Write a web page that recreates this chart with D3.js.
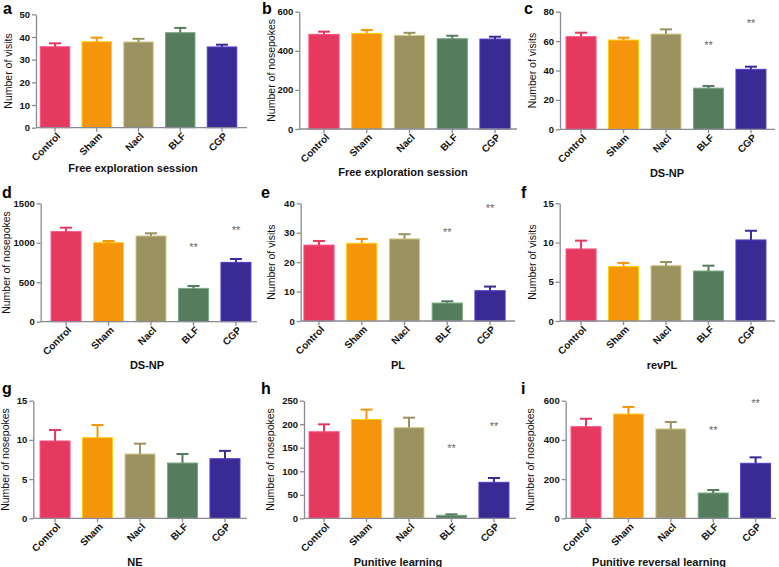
<!DOCTYPE html>
<html>
<head>
<meta charset="utf-8">
<script src="https://cdn.jsdelivr.net/npm/d3@7/dist/d3.min.js"></script>
<style>
  html, body { margin: 0; padding: 0; background: #fff; }
  svg { display: block; }
  text { font-family: Arial, "Liberation Sans", Helvetica, sans-serif; }
</style>
</head>
<body>
<svg id="chart" width="779" height="567"></svg>
<script>
// ---------- data ----------
const categories = ["Control", "Sham", "Nacl", "BLF", "CGP"];
const barColors = ["#e5395f", "#f5950c", "#9b9262", "#567c5e", "#3a2b94"];

const aMeans = [35.7, 37.9, 37.8, 41.9, 35.6];
const aSem   = [1.5, 1.8, 1.4, 2.1, 1.0];
const aTicks = [0, 10, 20, 30, 40, 50];

const bMeans = [484, 489, 479, 462, 460];
const bSem   = [14, 17, 13, 15, 12];
const bTicks = [0, 200, 400, 600];

const cMeans = [63.0, 60.7, 64.8, 28.0, 40.8];
const cSem   = [2.7, 1.6, 3.2, 1.5, 1.8];
const cTicks = [0, 20, 40, 60, 80];
const cStars = [null, null, null, 58.7, 73.9];

const dMeans = [1141, 1001, 1086, 422, 752];
const dSem   = [50, 21, 34, 30, 42];
const dTicks = [0, 500, 1000, 1500];
const dStars = [null, null, null, 972, 1183];

const eMeans = [25.8, 26.4, 27.9, 6.1, 10.3];
const eSem   = [1.4, 1.5, 1.6, 0.6, 1.4];
const eTicks = [0, 10, 20, 30, 40];
const eStars = [null, null, null, 30.9, 39.2];

const fMeans = [9.18, 6.93, 7.05, 6.37, 10.33];
const fSem   = [1.06, 0.47, 0.47, 0.68, 1.17];
const fTicks = [0, 5, 10, 15];

const gMeans = [9.86, 10.28, 8.2, 7.05, 7.6];
const gSem   = [1.4, 1.62, 1.32, 1.15, 1.0];
const gTicks = [0, 5, 10, 15];

const hMeans = [184, 210, 192.6, 6.4, 76.5];
const hSem   = [15.7, 21, 21.3, 2.1, 9.2];
const hTicks = [0, 50, 100, 150, 200, 250];
const hStars = [null, null, null, 154, 200];

const iMeans = [467.5, 532, 455.8, 129, 280.6];
const iSem   = [40.5, 36, 35.7, 15.5, 30.4];
const iTicks = [0, 200, 400, 600];
const iStars = [null, null, null, 459, 598.6];

const panelLetters = ["a", "b", "c", "d", "e", "f", "g", "h", "i"];
const yLabels = ["Number of visits", "Number of nosepokes", "Number of visits",
                 "Number of nosepokes", "Number of visits", "Number of visits",
                 "Number of nosepokes", "Number of nosepokes", "Number of nosepokes"];
const xTitles = ["Free exploration session", "Free exploration session", "DS-NP",
                 "DS-NP", "PL", "revPL", "NE", "Punitive learning", "Punitive reversal learning"];

const panelData = [
  {means: aMeans, sem: aSem, ticks: aTicks, stars: null},
  {means: bMeans, sem: bSem, ticks: bTicks, stars: null},
  {means: cMeans, sem: cSem, ticks: cTicks, stars: cStars},
  {means: dMeans, sem: dSem, ticks: dTicks, stars: dStars},
  {means: eMeans, sem: eSem, ticks: eTicks, stars: eStars},
  {means: fMeans, sem: fSem, ticks: fTicks, stars: null},
  {means: gMeans, sem: gSem, ticks: gTicks, stars: null},
  {means: hMeans, sem: hSem, ticks: hTicks, stars: hStars},
  {means: iMeans, sem: iSem, ticks: iTicks, stars: iStars}
];

// ---------- layout (pixel geometry per panel) ----------
const layout = [
  {axisX: 36,    band: [34.1, 242.9],  yTop: 14.3,  yBot: 127.7, axisEnd: 247, ylX: 8,     tX: 133, tY: 172, lX: 3,   lY: 14},
  {axisX: 299.3, band: [302.6, 516.4], yTop: 11.7,  yBot: 129,   axisEnd: 517, ylX: 271.7, tX: 403, tY: 176, lX: 262, lY: 14},
  {axisX: 560,   band: [559.8, 772.2], yTop: 11.7,  yBot: 129.3, axisEnd: 775, ylX: 532,   tX: 667, tY: 177, lX: 524, lY: 14},
  {axisX: 40.7,  band: [44.8, 257.2],  yTop: 203.3, yBot: 321.7, axisEnd: 257, ylX: 6,     tX: 147, tY: 369, lX: 2,   lY: 197.5},
  {axisX: 300.7, band: [297.6, 511.4], yTop: 203.3, yBot: 321,   axisEnd: 515, ylX: 271.7, tX: 398, tY: 369, lX: 261, lY: 197.5},
  {axisX: 559.7, band: [559.8, 772.2], yTop: 203.3, yBot: 321,   axisEnd: 775, ylX: 532.3, tX: 662, tY: 369, lX: 521, lY: 197.5},
  {axisX: 33.3,  band: [33.8, 246.2],  yTop: 400.7, yBot: 518.3, axisEnd: 247, ylX: 5,     tX: 135, tY: 566, lX: 2,   lY: 394},
  {axisX: 304,   band: [302.8, 515.2], yTop: 400.7, yBot: 518.3, axisEnd: 516, ylX: 270,   tX: 398, tY: 566, lX: 261, lY: 394},
  {axisX: 565.7, band: [564.8, 776.8], yTop: 400.7, yBot: 518.3, axisEnd: 776, ylX: 530.7, tX: 659, tY: 566, lX: 521, lY: 394}
];

const axisColor = "#8a8a96";
const svg = d3.select("#chart");

panelData.forEach((pd, k) => {
  const L = layout[k];
  const g = svg.append("g");

  const x = d3.scaleBand().domain(categories).range(L.band)
    .paddingInner(0.294).paddingOuter(0.147);
  const y = d3.scaleLinear().domain([0, d3.max(pd.ticks)]).range([L.yBot, L.yTop]);

  // bars
  g.selectAll("rect.bar").data(categories).enter().append("rect")
    .attr("class", "bar")
    .attr("x", c => x(c))
    .attr("width", x.bandwidth())
    .attr("y", (c, i) => y(pd.means[i]))
    .attr("height", (c, i) => L.yBot - y(pd.means[i]))
    .attr("fill", (c, i) => barColors[i])
    .attr("stroke", (c, i) => d3.color(barColors[i]).brighter(0.9))
    .attr("stroke-width", 1);

  // error bars (upper only)
  categories.forEach((c, i) => {
    const cx = x(c) + x.bandwidth() / 2;
    const top = y(pd.means[i] + pd.sem[i]);
    g.append("line").attr("x1", cx).attr("x2", cx)
      .attr("y1", y(pd.means[i])).attr("y2", top)
      .attr("stroke", barColors[i]).attr("stroke-width", 2);
    g.append("line").attr("x1", cx - 6).attr("x2", cx + 6)
      .attr("y1", top).attr("y2", top)
      .attr("stroke", barColors[i]).attr("stroke-width", 2);
  });

  // significance stars
  if (pd.stars) {
    categories.forEach((c, i) => {
      if (pd.stars[i] == null) return;
      g.append("text")
        .attr("x", x(c) + x.bandwidth() / 2)
        .attr("y", y(pd.stars[i]) + 6)
        .attr("text-anchor", "middle")
        .attr("font-size", 11)
        .attr("fill", "#666")
        .text("**");
    });
  }

  // y axis
  const yAxis = d3.axisLeft(y).tickValues(pd.ticks).tickFormat(d3.format("d"))
    .tickSize(4).tickSizeOuter(0).tickPadding(2);
  const ya = g.append("g").attr("transform", `translate(${L.axisX},0)`).call(yAxis);
  ya.select(".domain").attr("stroke", axisColor).attr("stroke-width", 1.3);
  ya.selectAll(".tick line").attr("stroke", axisColor).attr("stroke-width", 1.3);
  ya.selectAll(".tick text").attr("font-size", 9.5).attr("font-weight", "bold")
    .attr("fill", "#111").attr("font-family", "Arial, 'Liberation Sans', sans-serif");

  // x axis
  const xAxis = d3.axisBottom(x).tickSize(4).tickSizeOuter(0).tickPadding(2);
  const xa = g.append("g").attr("transform", `translate(0,${L.yBot})`).call(xAxis);
  xa.select(".domain").remove();
  xa.append("line").attr("x1", L.axisX).attr("x2", L.axisEnd).attr("y1", 0).attr("y2", 0)
    .attr("stroke", axisColor).attr("stroke-width", 1.3);
  xa.selectAll(".tick line").attr("stroke", axisColor).attr("stroke-width", 1.3);
  xa.selectAll(".tick text")
    .attr("font-size", 10).attr("font-weight", "bold").attr("fill", "#111")
    .attr("font-family", "Arial, 'Liberation Sans', sans-serif")
    .attr("text-anchor", "end")
    .attr("dy", null)
    .attr("y", 0)
    .attr("transform", "translate(6,9) rotate(-45)");

  // y label
  g.append("text")
    .attr("transform", `translate(${L.ylX},${(L.yTop + L.yBot) / 2}) rotate(-90)`)
    .attr("dy", "0.35em")
    .attr("text-anchor", "middle")
    .attr("font-size", 10.5)
    .attr("fill", "#111")
    .text(yLabels[k]);

  // x title
  g.append("text")
    .attr("x", L.tX).attr("y", L.tY)
    .attr("text-anchor", "middle")
    .attr("font-size", 11)
    .attr("font-weight", "bold")
    .attr("fill", "#111")
    .text(xTitles[k]);

  // panel letter
  g.append("text")
    .attr("x", L.lX).attr("y", L.lY)
    .attr("font-size", 16)
    .attr("font-weight", "bold")
    .attr("fill", "#000")
    .text(panelLetters[k]);
});
</script>
</body>
</html>
